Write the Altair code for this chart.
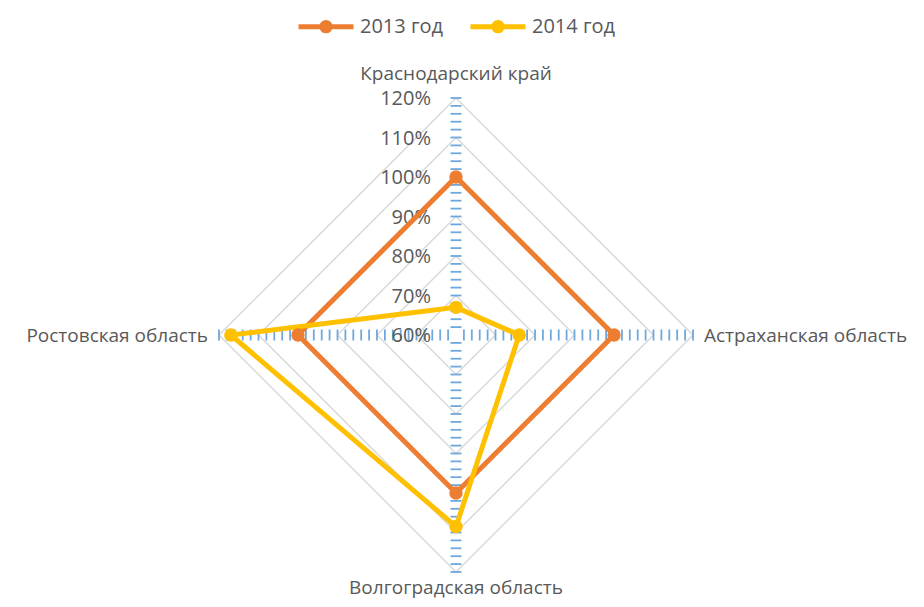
import altair as alt
import pandas as pd

# ---- data ----
categories = ["Краснодарский край", "Астраханская область", "Волгоградская область", "Ростовская область"]
series_names = ["2013 год", "2014 год"]
values_2013 = [100, 100, 100, 100]
values_2014 = [67, 76, 108.5, 117]
series_colors = ["#ED7D31", "#FFC000"]
grid_levels = [70, 80, 90, 100, 110, 120]
label_levels = [60, 70, 80, 90, 100, 110, 120]
tick_labels = ["60%", "70%", "80%", "90%", "100%", "110%", "120%"]
minor_ticks = list(range(62, 121, 2))
R_MIN, R_MAX = 60, 120

# ---- layout ----
W, H = 908, 591
CX, CY = 448, 327          # radar centre inside the plot area (px)
PPU = 237 / (R_MAX - R_MIN)  # px per percentage point
xdom = [-CX / PPU, (W - CX) / PPU]
ydom = [-(H - CY) / PPU, CY / PPU]
xs = alt.Scale(domain=xdom, nice=False, zero=False)
ys = alt.Scale(domain=ydom, nice=False, zero=False)
HALF_TICK = 5.5 / PPU

FONT = "Open Sans"
FS = 20
FS_CAT = 19
TXT = "#595959"

# ---- tables ----
rows = []
for s, vals in zip(series_names, [values_2013, values_2014]):
    for i, (c, v) in enumerate(zip(categories, vals)):
        rows.append({"series": s, "category": c, "idx": i, "value": v})
series_df = pd.DataFrame(rows)

grid_df = pd.DataFrame([{"level": l, "idx": i} for l in grid_levels for i in range(len(categories))])
tick_df = pd.DataFrame([{"v": v, "idx": i} for v in minor_ticks for i in range(len(categories))])
lab_df = pd.DataFrame({"level": label_levels, "label": tick_labels})
cat_df = pd.DataFrame({"category": categories, "idx": list(range(len(categories)))})

px = f"(datum.r - {R_MIN}) * sin(datum.idx * PI / 2)"
py = f"(datum.r - {R_MIN}) * cos(datum.idx * PI / 2)"

X = alt.X("x:Q", scale=xs, axis=None)
Y = alt.Y("y:Q", scale=ys, axis=None)

grid = alt.Chart(grid_df).transform_calculate(r="datum.level").transform_calculate(
    x=px, y=py
).mark_line(interpolate="linear-closed", color="#D9D9D9", strokeWidth=1.5).encode(
    x=X, y=Y, detail="level:N", order="idx:Q"
)

ticks = alt.Chart(tick_df).transform_calculate(r="datum.v").transform_calculate(
    cxp=px, cyp=py
).transform_calculate(
    x=f"datum.cxp - {HALF_TICK} * cos(datum.idx * PI / 2)",
    x2=f"datum.cxp + {HALF_TICK} * cos(datum.idx * PI / 2)",
    y=f"datum.cyp + {HALF_TICK} * sin(datum.idx * PI / 2)",
    y2=f"datum.cyp - {HALF_TICK} * sin(datum.idx * PI / 2)",
).mark_rule(color="#6FA8DC", strokeWidth=1.8).encode(
    x=X, y=Y, x2="x2:Q", y2="y2:Q"
)

pct = alt.Chart(lab_df).transform_calculate(x="0", y=f"datum.level - {R_MIN}").mark_text(
    align="right", baseline="middle", dx=-25, dy=1, font=FONT, fontSize=FS, color=TXT
).encode(x=X, y=Y, text="label:N")

legend = alt.Legend(
    title=None, orient="none", legendX=305.5, legendY=6, direction="horizontal",
    symbolType="M-2.75,0L2.75,0M0.42,0A0.42,0.42,0,1,1,-0.42,0A0.42,0.42,0,1,1,0.42,0Z",
    symbolSize=400, symbolStrokeWidth=5, labelOffset=21.5, columnPadding=17, padding=0,
    labelFont=FONT, labelFontSize=FS, labelColor=TXT, symbolOpacity=1,
)
color = alt.Color("series:N", scale=alt.Scale(domain=series_names, range=series_colors), legend=legend)

base = alt.Chart(series_df).transform_calculate(r="datum.value").transform_calculate(x=px, y=py)
lines = base.mark_line(interpolate="linear-closed", strokeWidth=5).encode(
    x=X, y=Y, color=color, order="idx:Q"
)
points = base.mark_point(filled=True, size=180, opacity=1).encode(x=X, y=Y, color=color)

catbase = alt.Chart(cat_df).transform_calculate(r=str(R_MAX)).transform_calculate(x=px, y=py)
tstyle = dict(font=FONT, fontSize=FS_CAT, color=TXT, baseline="middle")
cat_top = catbase.transform_filter("datum.idx == 0").mark_text(align="center", dy=-24, **tstyle).encode(x=X, y=Y, text="category:N")
cat_right = catbase.transform_filter("datum.idx == 1").mark_text(align="left", dx=11, dy=1, **tstyle).encode(x=X, y=Y, text="category:N")
cat_bottom = catbase.transform_filter("datum.idx == 2").mark_text(align="center", dy=16, **tstyle).encode(x=X, y=Y, text="category:N")
cat_left = catbase.transform_filter("datum.idx == 3").mark_text(align="right", dx=-11, dy=1, **tstyle).encode(x=X, y=Y, text="category:N")

chart = alt.layer(
    grid, ticks, pct, lines, points, cat_top, cat_right, cat_bottom, cat_left
).properties(
    width=W, height=H, autosize=alt.AutoSizeParams(type="none"), padding=0,
    background="white"
).configure_view(stroke=None)

chart.save("out.html", embed_options={"renderer": "svg", "actions": False})
